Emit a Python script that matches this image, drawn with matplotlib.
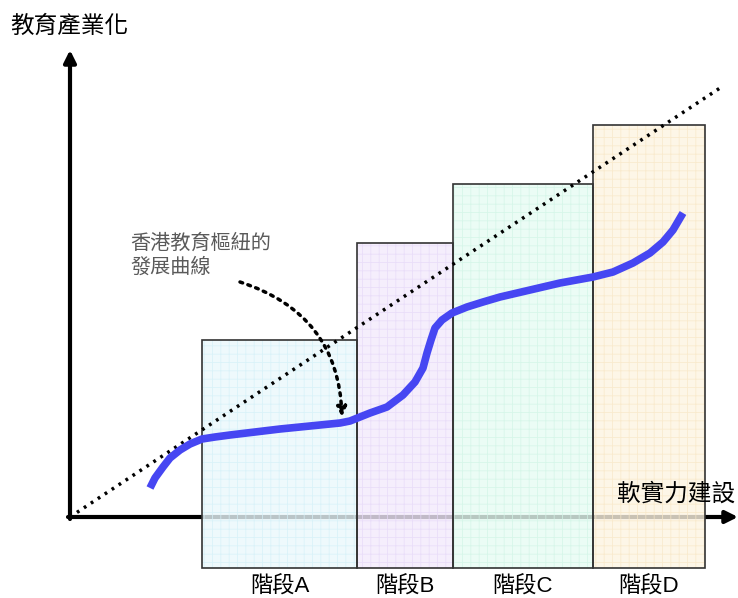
import matplotlib
matplotlib.use("Agg")
import matplotlib.pyplot as plt
from matplotlib.patches import Rectangle, FancyArrowPatch

plt.rcParams['font.family'] = ['Liberation Sans', 'Noto Sans CJK TC', 'DejaVu Sans']
plt.rcParams['hatch.linewidth'] = 0.6

# 資料
stages = ["階段A", "階段B", "階段C", "階段D"]
stage_edges = [132, 287, 383, 523, 635]
stage_tops = [177, 274, 333, 392]
stage_bottom = -51
stage_colors = ['#eaf8fc', '#f3eafc', '#e6fcf3', '#fdf4e2']
stage_hatch = ['#d6f1f8', '#e7daf8', '#d3f5e7', '#f8e8c8']

curve_x = [80, 85, 93, 100, 110, 120, 132, 145, 160, 185, 210, 240, 270, 280,
           300, 317, 333, 345, 353, 357, 361, 365, 372, 382, 397, 413, 430,
           460, 490, 523, 543, 563, 580, 593, 603, 613]
curve_y = [29, 39, 50, 59, 67, 73, 78, 80, 82, 85, 88, 91, 94, 96,
           104, 110, 122, 135, 149, 164, 177, 189, 197, 204, 210, 215, 220,
           227, 234, 240, 245, 254, 264, 275, 287, 304]

trend_x = [0, 650]
trend_y = [0, 429]

fig = plt.figure(figsize=(7.38, 5.98), dpi=100)
ax = fig.add_axes([0, 0, 1, 1])
ax.set_xlim(-70, 668)
ax.set_ylim(-81, 517)
ax.axis('off')

# 座標軸（箭頭）
ax.annotate('', xy=(0, 467), xytext=(0, -2),
            arrowprops=dict(arrowstyle='-|>', color='black', lw=3,
                            mutation_scale=18, shrinkA=0, shrinkB=0), zorder=1)
ax.annotate('', xy=(668, 0), xytext=(-2, 0),
            arrowprops=dict(arrowstyle='-|>', color='black', lw=3,
                            mutation_scale=18, shrinkA=0, shrinkB=0), zorder=1)

# 四個階段
for i in range(len(stages)):
    x0 = stage_edges[i]
    w = stage_edges[i + 1] - stage_edges[i]
    h = stage_tops[i] - stage_bottom
    ax.add_patch(Rectangle((x0, stage_bottom), w, h, facecolor=stage_colors[i],
                           edgecolor=stage_hatch[i], hatch='++', lw=0,
                           alpha=0.8, zorder=2))
    ax.add_patch(Rectangle((x0, stage_bottom), w, h, facecolor='none',
                           edgecolor='#333333', lw=1.2, zorder=3))
    ax.text(x0 + w / 2, -70, stages[i], ha='center', va='center', fontsize=16)

# 對角虛線
ax.plot(trend_x, trend_y, color='black', lw=2.5, ls=(0, (0.8, 1.6)), zorder=4)

# 發展曲線
ax.plot(curve_x, curve_y, color='#4646f2', lw=5.5, solid_capstyle='butt',
        solid_joinstyle='round', zorder=5)

# 註解
ax.text(60, 262, "香港教育樞紐的\n發展曲線", ha='left', va='center', fontsize=14.5,
        color='#5a5a5a', linespacing=1.35)
arr = FancyArrowPatch((170, 235), (272, 100), connectionstyle='arc3,rad=-0.35',
                      arrowstyle='-|>', mutation_scale=14, color='black', lw=2.5,
                      ls=(0, (0.8, 1.6)), shrinkA=0, shrinkB=0, zorder=6)
ax.add_patch(arr)

ax.text(-60, 490, "教育產業化", ha='left', va='center', fontsize=17)
ax.text(665, 23, "軟實力建設", ha='right', va='center', fontsize=17)

fig.savefig("out.png", dpi=100)
